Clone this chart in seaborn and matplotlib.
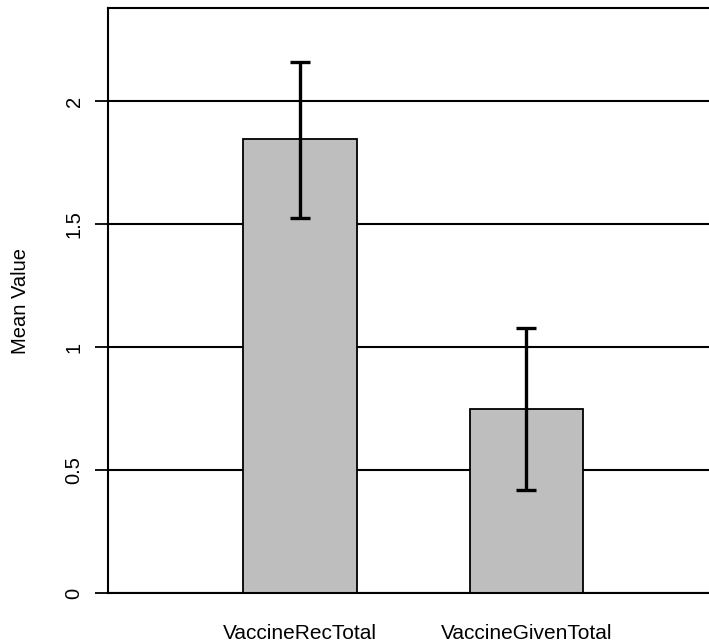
import matplotlib
matplotlib.use("Agg")
import matplotlib.pyplot as plt
import seaborn as sns
import pandas as pd

# --- Data ---
categories = ["VaccineRecTotal", "VaccineGivenTotal"]
means = [1.844, 0.749]
err_low = [1.523, 0.419]
err_high = [2.159, 1.077]
ytick_vals = [0, 0.5, 1, 1.5, 2]
ytick_labels = ["0", "0.5", "1", "1.5", "2"]

df = pd.DataFrame({"variable": categories, "mean": means})

sns.set_style("white")
plt.rcParams["font.family"] = ["Liberation Sans", "DejaVu Sans"]
plt.rcParams["text.color"] = "black"
plt.rcParams["xtick.color"] = "black"
plt.rcParams["ytick.color"] = "black"
plt.rcParams["axes.labelcolor"] = "black"

fig = plt.figure(figsize=(7.09, 6.43), dpi=100)
ax = fig.add_axes([108 / 709, 1 - 593 / 643, 1 - 108 / 709, (593 - 8) / 643])

# horizontal reference lines behind the bars
for v in ytick_vals:
    ax.axhline(v, color="black", lw=1.5, zorder=0)

sns.barplot(
    data=df, x="variable", y="mean", color="#bebebe",
    edgecolor="black", linewidth=1.3, width=0.5, errorbar=None,
    saturation=1, ax=ax, zorder=2,
)

yerr = [[m - lo for m, lo in zip(means, err_low)],
        [hi - m for m, hi in zip(means, err_high)]]
ax.errorbar(range(len(categories)), means, yerr=yerr, fmt="none",
            ecolor="black", elinewidth=2.4, capsize=7.5, capthick=2.4, zorder=3)

ax.set_xlim(-0.848, 1.806)
ax.set_ylim(0, 2.378)
ax.set_yticks(ytick_vals)
ax.set_yticklabels(ytick_labels, rotation=90, va="center")
ax.tick_params(axis="y", left=True, length=9.5, width=1.3, pad=8,
               labelsize=14.5, color="black", labelcolor="black")
ax.tick_params(axis="x", bottom=False, length=0, pad=22, labelsize=15,
               labelcolor="black")

ax.set_xlabel("")
ax.set_ylabel("Mean Value", fontsize=14.5, color="black")
ax.yaxis.set_label_coords(-0.13, 0.5)

for side in ["top", "left", "bottom"]:
    ax.spines[side].set_color("black")
    ax.spines[side].set_linewidth(1.5)
ax.spines["right"].set_visible(False)

fig.savefig("out.png", dpi=100)
